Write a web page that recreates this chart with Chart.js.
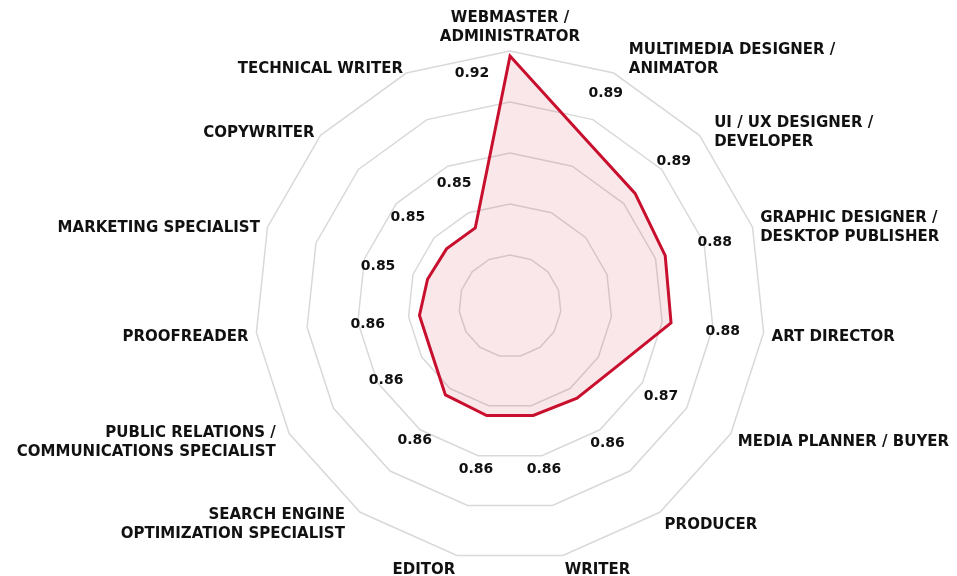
<!DOCTYPE html>
<html>
<head>
<meta charset="utf-8">
<title>Radar</title>
<script src="https://cdn.jsdelivr.net/npm/chart.js@4/dist/chart.umd.min.js"></script>
<style>
    html, body { margin: 0; padding: 0; background: #fff; }
    #wrap { width: 957px; height: 576px; }
</style>
</head>
<body>
<div id="wrap"><canvas id="radarChart" width="957" height="576"></canvas></div>
<script>
// Categories (clockwise from the top)
const categories = [
    ['WEBMASTER /', 'ADMINISTRATOR'],
    ['MULTIMEDIA DESIGNER /', 'ANIMATOR'],
    ['UI / UX DESIGNER /', 'DEVELOPER'],
    ['GRAPHIC DESIGNER /', 'DESKTOP PUBLISHER'],
    'ART DIRECTOR',
    'MEDIA PLANNER / BUYER',
    'PRODUCER',
    'WRITER',
    'EDITOR',
    ['SEARCH ENGINE', 'OPTIMIZATION SPECIALIST'],
    ['PUBLIC RELATIONS /', 'COMMUNICATIONS SPECIALIST'],
    'PROOFREADER',
    'MARKETING SPECIALIST',
    'COPYWRITER',
    'TECHNICAL WRITER'
];

// Scores
const scores = [0.918, 0.892, 0.886, 0.884, 0.8835, 0.868, 0.8647, 0.8639, 0.8639, 0.8631, 0.8557, 0.8557, 0.854, 0.8535, 0.8535];

// Radial scale
const scaleMin = 0.82;
const scaleMax = 0.92;
const scaleStep = 0.02;

const lineColor = '#c8102e';
const textColor = '#111';
const labelFont = '"DejaVu Sans", sans-serif';
const lineH = 19;

// Category names round the outer ring
const categoryLabels = {
    id: 'categoryLabels',
    afterDraw(chart) {
        const ctx = chart.ctx;
        const scale = chart.scales.r;
        ctx.save();
        ctx.font = 'bold 15px ' + labelFont;
        ctx.fillStyle = textColor;
        ctx.textBaseline = 'middle';
        categories.forEach((label, i) => {
            const lines = Array.isArray(label) ? label : [label];
            const angle = scale.getIndexAngle(i);
            const sin = Math.sin(angle);
            const cos = Math.cos(angle);
            const p = scale.getPointPosition(i, scale.drawingArea + 8);
            const blockH = lines.length * lineH;
            let x = p.x;
            let yTop;
            if (Math.abs(sin) < 0.01) {
                ctx.textAlign = 'center';
                yTop = p.y + 4 - blockH;
            } else {
                ctx.textAlign = sin > 0 ? 'left' : 'right';
                let yMid = p.y + 3;
                if (cos < 0) yMid -= 4 * cos;
                if (lines.length > 1) {
                    if (Math.abs(cos) >= 0.5) x += Math.sign(sin) * 13 * Math.abs(cos);
                    if (cos > 0.8) yMid -= lineH / 2;
                }
                yTop = yMid - blockH / 2;
            }
            lines.forEach((line, k) => {
                ctx.fillText(line, x, yTop + lineH / 2 + k * lineH);
            });
        });
        ctx.restore();
    }
};

// Value labels drawn just outside each point
const valueLabels = {
    id: 'valueLabels',
    afterDatasetsDraw(chart) {
        const ctx = chart.ctx;
        const scale = chart.scales.r;
        const meta = chart.getDatasetMeta(0);
        ctx.save();
        ctx.font = 'bold 14px ' + labelFont;
        ctx.fillStyle = textColor;
        ctx.textAlign = 'center';
        ctx.textBaseline = 'middle';
        meta.data.forEach((pt, i) => {
            const dx = pt.x - scale.xCenter;
            const dy = pt.y - scale.yCenter;
            const r = Math.sqrt(dx * dx + dy * dy);
            let x, y;
            if (r + 52 > scale.drawingArea) {
                // no room outside: put it beside the point
                x = pt.x - 38;
                y = pt.y + 17;
            } else {
                x = scale.xCenter + dx / r * (r + 52);
                y = scale.yCenter + dy / r * (r + 52) + 3;
            }
            ctx.fillText(scores[i].toFixed(2), x, y);
        });
        ctx.restore();
    }
};

const radarCtx = document.getElementById('radarChart').getContext('2d');
const radarChart = new Chart(radarCtx, {
    type: 'radar',
    data: {
        labels: categories,
        datasets: [{
            data: scores,
            borderColor: lineColor,
            backgroundColor: 'rgba(200, 16, 46, 0.1)',
            borderWidth: 3,
            borderJoinStyle: 'miter',
            pointRadius: 0,
            fill: true
        }]
    },
    options: {
        responsive: false,
        animation: false,
        layout: {
            // centre at (510, 306), outer ring radius 255
            padding: { left: 210, right: 147, top: 51, bottom: 15 }
        },
        plugins: {
            legend: { display: false },
            tooltip: { enabled: false }
        },
        scales: {
            r: {
                min: scaleMin,
                max: scaleMax,
                ticks: { display: false, stepSize: scaleStep },
                grid: { color: '#d9d9d9', lineWidth: 1.5 },
                angleLines: { display: false },
                pointLabels: { display: false }
            }
        }
    },
    plugins: [valueLabels, categoryLabels]
});
</script>
</body>
</html>
